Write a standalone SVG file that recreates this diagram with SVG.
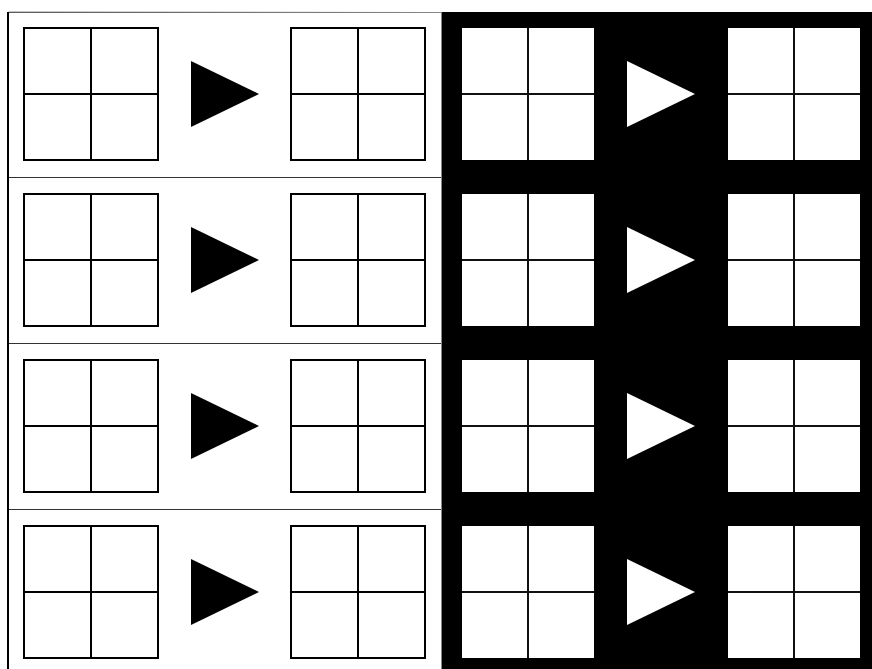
<svg xmlns="http://www.w3.org/2000/svg" width="872" height="669" viewBox="0 0 872 669">
<defs>
<style>
.row{fill:#fff;stroke:#333;stroke-width:1}
.g{fill:#fff;stroke:#000;stroke-width:2}
.gl{stroke:#000;stroke-width:2}
.w{fill:#fff;stroke:none}
.wl{stroke:#111;stroke-width:2}
.tb{fill:#000}
.tw{fill:#fff}
</style>
<g id="gridL">
<rect class="g" x="24" y="28" width="134" height="132"/>
<line class="gl" x1="91" y1="28" x2="91" y2="160"/>
<line class="gl" x1="24" y1="94" x2="158" y2="94"/>
</g>
<g id="gridR">
<rect class="w" x="0" y="28" width="132" height="132"/>
<line class="wl" x1="66" y1="28" x2="66" y2="160"/>
<line class="wl" x1="0" y1="94" x2="132" y2="94"/>
</g>
</defs>
<rect x="0" y="0" width="872" height="669" fill="#fff"/>
<g id="left-panel">
<rect class="row" x="8.5" y="12.5" width="433" height="165"/>
<rect class="row" x="8.5" y="177.5" width="433" height="166"/>
<rect class="row" x="8.5" y="343.5" width="433" height="166"/>
<rect class="row" x="8.5" y="509.5" width="433" height="166"/>
<line x1="8.5" y1="12" x2="443" y2="12.5" stroke="#888" stroke-width="1"/>
<line x1="8" y1="12" x2="8" y2="669" stroke="#000" stroke-width="2"/>
<line x1="441.5" y1="12" x2="441.5" y2="669" stroke="#888" stroke-width="1"/>
</g>
<g id="right-panel">
<rect x="442" y="12" width="430" height="657" fill="#000"/>
</g>
<g id="row1">
<use id="r1a" href="#gridL"/>
<polygon id="r1t" class="tb" points="191,61 259,94 191,127"/>
<use id="r1b" href="#gridL" x="267"/>
<use id="r1c" href="#gridR" x="462"/>
<polygon id="r1u" class="tw" points="627,61 695,94 627,127"/>
<use id="r1d" href="#gridR" x="728"/>
</g>
<g id="row2" transform="translate(0,166)">
<use id="r2a" href="#gridL"/>
<polygon id="r2t" class="tb" points="191,61 259,94 191,127"/>
<use id="r2b" href="#gridL" x="267"/>
<use id="r2c" href="#gridR" x="462"/>
<polygon id="r2u" class="tw" points="627,61 695,94 627,127"/>
<use id="r2d" href="#gridR" x="728"/>
</g>
<g id="row3" transform="translate(0,332)">
<use id="r3a" href="#gridL"/>
<polygon id="r3t" class="tb" points="191,61 259,94 191,127"/>
<use id="r3b" href="#gridL" x="267"/>
<use id="r3c" href="#gridR" x="462"/>
<polygon id="r3u" class="tw" points="627,61 695,94 627,127"/>
<use id="r3d" href="#gridR" x="728"/>
</g>
<g id="row4" transform="translate(0,498)">
<use id="r4a" href="#gridL"/>
<polygon id="r4t" class="tb" points="191,61 259,94 191,127"/>
<use id="r4b" href="#gridL" x="267"/>
<use id="r4c" href="#gridR" x="462"/>
<polygon id="r4u" class="tw" points="627,61 695,94 627,127"/>
<use id="r4d" href="#gridR" x="728"/>
</g>
<g id="connectors"></g>
</svg>
